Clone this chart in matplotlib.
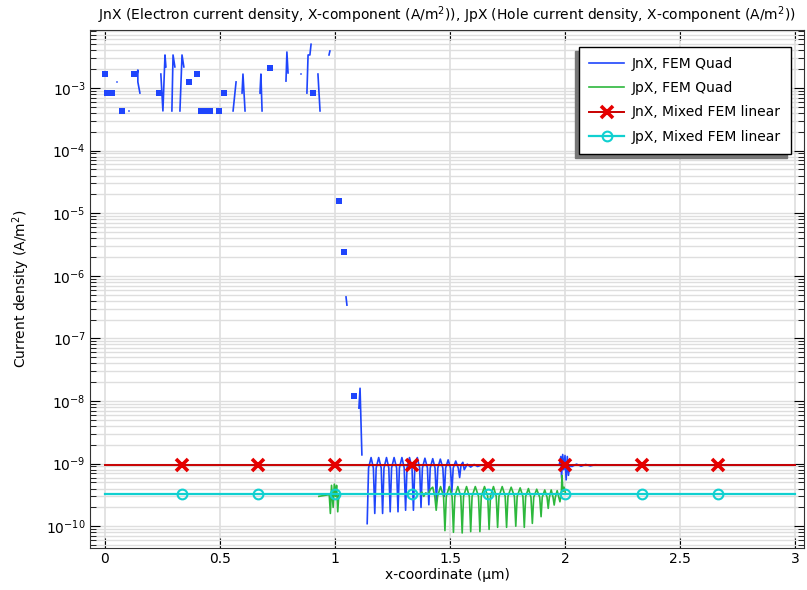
import matplotlib
matplotlib.use("Agg")
import matplotlib.pyplot as plt
import numpy as np
from matplotlib.ticker import FixedLocator, FormatStrFormatter, LogLocator, NullLocator

nan = np.nan

# ── data ──────────────────────────────────────────────────────────────────────

# JnX, FEM Quad: line pieces separated by nan
jn_quad_x = [0.139, 0.143, 0.143, 0.152, nan,
             0.243, 0.252, 0.261, 0.265, nan,
             0.291, 0.296, 0.304, nan,
             0.326, 0.335, 0.343, nan,
             0.557, 0.570, nan,
             0.596, 0.600, 0.609, nan,
             0.674, 0.678, 0.683, nan,
             0.787, 0.791, 0.796, nan,
             0.878, 0.883, 0.891, 0.896, nan,
             0.926, 0.935, nan,
             0.974, 0.978, nan,
             1.048, 1.052, nan,
             1.104, 1.109, 1.117, nan,
             1.140, 1.146, 1.157, 1.167, 1.173, 1.179, 1.190, 1.201,
             1.207, 1.213, 1.224, 1.234, 1.240, 1.246, 1.257, 1.268,
             1.274, 1.280, 1.291, 1.301, 1.307, 1.313, 1.324, 1.335,
             1.341, 1.347, 1.358, 1.368, 1.374, 1.380, 1.391, 1.402,
             1.408, 1.414, 1.425, 1.435, 1.441, 1.447, 1.458, 1.469,
             1.475, 1.481, 1.492, 1.502, 1.508, 1.514, 1.525, 1.536,
             1.542, 1.548, 1.556, 1.562, 1.575, 1.590, 1.605, 1.620,
             1.640, 1.660, 1.700, 1.975, 1.982, 1.985, 1.990, 1.995,
             2.000, 2.005, 2.010, 2.015, 2.020, 2.030, 2.050, 2.070,
             2.090, 2.110, 2.130, 2.160, 3.000]
jn_quad_y = [1.61e-3, 1.94e-3, 1.25e-3, 8.3e-4, nan,
             1.67e-3, 4.3e-4, 3.37e-3, 2.17e-3, nan,
             4.3e-4, 3.37e-3, 2.17e-3, nan,
             4.3e-4, 3.37e-3, 2.17e-3, nan,
             4.3e-4, 1.25e-3, nan,
             8.3e-4, 1.67e-3, 4.3e-4, nan,
             8.3e-4, 1.67e-3, 4.3e-4, nan,
             1.29e-3, 3.76e-3, 1.74e-3, nan,
             8.3e-4, 3.37e-3, 3.37e-3, 5.0e-3, nan,
             1.67e-3, 4.3e-4, nan,
             3.37e-3, 3.9e-3, nan,
             4.6e-7, 3.4e-7, nan,
             7.7e-9, 1.6e-8, 1.38e-9, nan,
             1.1e-10, 8.5e-10, 1.25e-9, 8.5e-10, 1.6e-10, 8.5e-10, 1.25e-9, 8.5e-10,
             1.6e-10, 8.5e-10, 1.25e-9, 8.5e-10, 1.7e-10, 8.5e-10, 1.25e-9, 8.5e-10,
             1.7e-10, 8.5e-10, 1.25e-9, 8.5e-10, 1.8e-10, 8.5e-10, 1.25e-9, 8.5e-10,
             1.8e-10, 8.5e-10, 1.25e-9, 8.5e-10, 2.0e-10, 8.5e-10, 1.22e-9, 8.5e-10,
             2.2e-10, 8.5e-10, 1.2e-9, 8.5e-10, 2.5e-10, 8.5e-10, 1.18e-9, 8.5e-10,
             3.0e-10, 8.5e-10, 1.15e-9, 8.5e-10, 3.5e-10, 8.5e-10, 1.1e-9, 8.5e-10,
             6.0e-10, 9.5e-10, 1.05e-9, 8.0e-10, 9.8e-10, 8.8e-10, 9.7e-10, 9.0e-10,
             9.6e-10, 9.2e-10, 9.5e-10, 9.5e-10, 1.3e-9, 6.0e-10, 1.4e-9, 8.0e-10,
             1.35e-9, 5.5e-10, 1.3e-9, 6.5e-10, 9.3e-10, 9.0e-10, 9.8e-10, 9.1e-10,
             9.7e-10, 9.2e-10, 9.6e-10, 9.5e-10, 9.5e-10]

# JnX, FEM Quad: isolated nodes
jn_dots_x = [0.000, 0.009, 0.030, 0.074, 0.126, 0.235, 0.365, 0.400, 0.417,
             0.443, 0.457, 0.496, 0.517, 0.717, 0.904, 1.017, 1.039, 1.083]
jn_dots_y = [1.67e-3, 8.3e-4, 8.3e-4, 4.3e-4, 1.67e-3, 8.3e-4, 1.25e-3, 1.67e-3, 4.3e-4,
             4.3e-4, 4.3e-4, 4.3e-4, 8.3e-4, 2.09e-3, 8.3e-4, 1.57e-5, 2.4e-6, 1.2e-8]
jn_tiny_x = [0.052, 0.104, 0.852]
jn_tiny_y = [1.25e-3, 4.3e-4, 1.67e-3]

# JpX, FEM Quad
jp_quad_x = [0.930, 0.975, 0.980, 0.985, 0.992, 0.997, 1.002, 1.007, 1.012, 1.017,
             1.370, 1.378, 1.386, 1.394, 1.405, 1.415, 1.425, 1.434,
             1.440, 1.446, 1.459, 1.472, 1.478, 1.484, 1.497, 1.509,
             1.515, 1.521, 1.534, 1.547, 1.553, 1.559, 1.572, 1.584,
             1.590, 1.596, 1.610, 1.624, 1.630, 1.636, 1.650, 1.664,
             1.670, 1.676, 1.689, 1.701, 1.707, 1.713, 1.727, 1.740,
             1.746, 1.752, 1.766, 1.780, 1.786, 1.792, 1.805, 1.817,
             1.823, 1.829, 1.841, 1.852, 1.858, 1.864, 1.877, 1.890,
             1.896, 1.901, 1.912, 1.922, 1.927, 1.932, 1.940, 1.948,
             1.953, 1.958, 1.966, 1.973, 1.978, 1.984, 1.987, 1.991,
             1.996, 2.003, 3.000]
jp_quad_y = [3.0e-10, 3.2e-10, 1.6e-10, 4.5e-10, 2.0e-10, 4.7e-10, 3.0e-10, 4.5e-10, 1.7e-10, 3.27e-10,
             3.27e-10, 3.5e-10, 3.0e-10, 3.4e-10, 3.27e-10, 3.9e-10, 4.2e-10, 3.0e-10,
             1.8e-10, 3.0e-10, 4.3e-10, 3.0e-10, 8.5e-11, 3.0e-10, 4.3e-10, 3.0e-10,
             8.0e-11, 3.0e-10, 4.3e-10, 3.0e-10, 7.8e-11, 3.0e-10, 4.3e-10, 3.0e-10,
             8.2e-11, 3.0e-10, 4.3e-10, 3.0e-10, 8.2e-11, 3.0e-10, 4.3e-10, 3.0e-10,
             8.9e-11, 3.0e-10, 4.3e-10, 3.0e-10, 9.6e-11, 3.0e-10, 4.3e-10, 3.0e-10,
             9.6e-11, 3.0e-10, 4.2e-10, 3.0e-10, 1.0e-10, 3.0e-10, 4.1e-10, 3.0e-10,
             9.6e-11, 3.0e-10, 4.0e-10, 2.9e-10, 1.11e-10, 2.9e-10, 3.9e-10, 2.9e-10,
             1.42e-10, 2.9e-10, 3.8e-10, 2.9e-10, 1.93e-10, 2.9e-10, 3.8e-10, 2.9e-10,
             2.18e-10, 2.9e-10, 3.7e-10, 2.9e-10, 2.46e-10, 3.3e-10, 6.5e-10, 3.6e-10,
             4.2e-10, 3.27e-10, 3.27e-10]

# Mixed FEM linear
mixed_x = [0.0, 0.3333, 0.6667, 1.0, 1.3333, 1.6667, 2.0, 2.3333, 2.6667, 3.0]
jn_mixed_y = [9.5e-10, 9.5e-10, 9.5e-10, 9.5e-10, 9.5e-10,
              9.5e-10, 9.5e-10, 9.5e-10, 9.5e-10, 9.5e-10]
jp_mixed_y = [3.27e-10, 3.27e-10, 3.27e-10, 3.27e-10, 3.27e-10,
              3.27e-10, 3.27e-10, 3.27e-10, 3.27e-10, 3.27e-10]

x_ticks = [0, 0.5, 1, 1.5, 2, 2.5, 3]
y_ticks = [1e-10, 1e-9, 1e-8, 1e-7, 1e-6, 1e-5, 1e-4, 1e-3]

# ── plot ──────────────────────────────────────────────────────────────────────

BLUE = "#1f45fc"
GREEN = "#2db83d"

fig = plt.figure(figsize=(8.07, 5.90), dpi=100)
ax = fig.add_axes([90 / 807, 42 / 590, 714 / 807, 518 / 590])

ax.plot(jn_quad_x, jn_quad_y, color=BLUE, lw=1.2, label="JnX, FEM Quad")
ax.plot(jn_dots_x, jn_dots_y, ls="none", marker="s", ms=4, color=BLUE, mew=0)
ax.plot(jn_tiny_x, jn_tiny_y, ls="none", marker="s", ms=1.6, color=BLUE, mew=0, alpha=0.6)
ax.plot(jp_quad_x, jp_quad_y, color=GREEN, lw=1.2, label="JpX, FEM Quad")
ax.plot(mixed_x, jn_mixed_y, color="#c80000", lw=1.4, marker="x", ms=8, mew=2.6,
        mec="#e60000", markevery=slice(1, -1), label="JnX, Mixed FEM linear")
ax.plot(mixed_x, jp_mixed_y, color="#10d0d0", lw=1.6, marker="o", ms=7, mew=1.5,
        mfc="none", mec="#10d0d0", markevery=slice(1, -1), label="JpX, Mixed FEM linear")

ax.set_yscale("log")
ax.set_xlim(-0.065, 3.039)
ax.set_ylim(4.49e-11, 8.44e-3)

ax.xaxis.set_major_locator(FixedLocator(x_ticks))
ax.xaxis.set_major_formatter(FormatStrFormatter("%g"))
ax.xaxis.set_minor_locator(NullLocator())
ax.yaxis.set_major_locator(FixedLocator(y_ticks))
ax.yaxis.set_minor_locator(LogLocator(base=10, subs=range(2, 10), numticks=20))

ax.grid(which="major", axis="x", color="#dedede", lw=1.2)
ax.grid(which="both", axis="y", color="#dedede", lw=1.0)
ax.set_axisbelow(True)

ax.tick_params(which="both", direction="in", top=True, right=True, labelsize=10, pad=3)
ax.tick_params(which="major", length=7)
ax.tick_params(which="minor", length=4)
for s in ax.spines.values():
    s.set_color("#333333")

ax.set_title("JnX (Electron current density, X-component (A/m$^2$)), "
             "JpX (Hole current density, X-component (A/m$^2$))", fontsize=10, pad=7)
ax.set_xlabel("x-coordinate (µm)", fontsize=10, labelpad=1)
ax.set_ylabel("Current density (A/m$^2$)", fontsize=10)
ax.yaxis.set_label_coords(-0.081, 0.5)

ax.legend(loc="upper right", bbox_to_anchor=(0.982, 0.967), borderaxespad=0,
          fontsize=10, labelspacing=0.73, borderpad=0.72, handlelength=2.5,
          handletextpad=0.58, fancybox=False, framealpha=1, edgecolor="black",
          shadow={"ox": -3, "oy": -3, "color": "#777777", "alpha": 1})

fig.savefig("out.png", dpi=100)
